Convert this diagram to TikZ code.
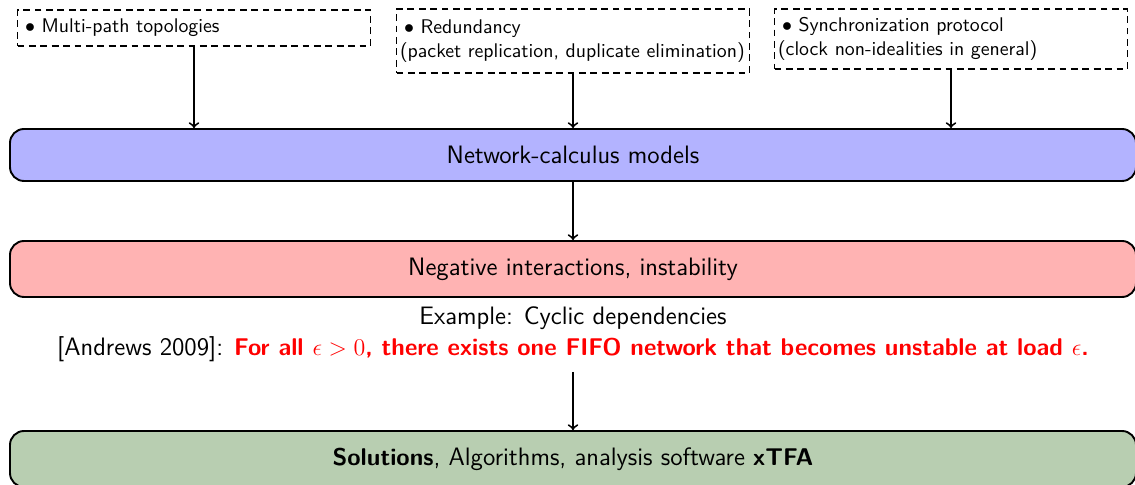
\documentclass[tikz,border=0pt]{standalone}
\renewcommand{\familydefault}{\sfdefault}
\definecolor{modelblue}{RGB}{179,179,255}
\definecolor{issuered}{RGB}{255,179,179}
\definecolor{solgreen}{RGB}{184,206,177}
% bold passages are set a little smaller than the surrounding text
\newcommand{\strongtext}[1]{{\fontsize{12.1}{15.5}\selectfont\bfseries #1}}
\newcommand{\itembullet}{\hspace{2pt}$\bullet$\ }
\begin{document}
\begin{tikzpicture}[x=0.5pt,y=-0.5pt,
  note/.style={draw, line width=0.95pt, dash pattern=on 3.4pt off 2.3pt, align=left,
    text width=173pt, inner xsep=1.75pt, inner ysep=0pt,
    font=\fontsize{9.9}{12}\selectfont},
  stage/.style={draw, line width=0.95pt, rounded corners=7pt, minimum width=563pt,
    inner sep=0pt, font=\fontsize{12.6}{15}\selectfont},
  link/.style={line width=0.95pt, ->}]
\useasboundingbox (0,0) rectangle (1135,485);

% input topics
\node[note, minimum height=18pt] (paths) at (194,28)
  {\itembullet Multi-path topologies};
\node[note, minimum height=32pt] (redund) at (573,41)
  {\itembullet Redundancy\\(packet replication, duplicate elimination)};
\node[note, minimum height=30pt] (sync) at (951,39)
  {\itembullet Synchronization protocol\\(clock non-idealities in general)};

% main stages
\node[stage, fill=modelblue, minimum height=26pt] (models) at (573,155)
  {Network-calculus models};
\node[stage, fill=issuered, minimum height=28pt] (neg) at (573,269)
  {Negative interactions, instability};
\node[align=center, inner sep=0pt, font=\fontsize{12.6}{15.5}\selectfont] (example) at (573,334)
  {Example: Cyclic dependencies\\
   {[Andrews 2009]}: \textcolor{red}{\strongtext{For all $\epsilon>0$, there exists one FIFO network that becomes unstable at load $\epsilon$.}}};
\coordinate (exbottom) at (573,372);
\node[stage, fill=solgreen, minimum height=28pt] (sol) at (573,459)
  {\strongtext{Solutions}, Algorithms, analysis software \strongtext{xTFA}};

% connectors
\draw[link] (paths.south) -- (paths.south |- models.north);
\draw[link] (redund.south) -- (redund.south |- models.north);
\draw[link] (sync.south) -- (sync.south |- models.north);
\draw[link] (models) -- (neg);
\draw[link] (exbottom) -- (sol.north);
\end{tikzpicture}
\end{document}
